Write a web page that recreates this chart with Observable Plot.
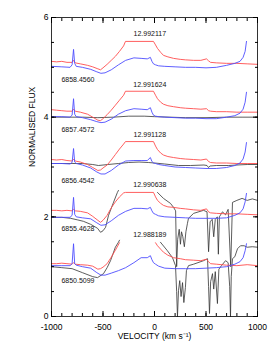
<!DOCTYPE html>
<html><head><meta charset="utf-8">
<script src="https://cdn.jsdelivr.net/npm/d3@7"></script>
<script src="https://cdn.jsdelivr.net/npm/@observablehq/plot@0.6"></script>
<style>body{margin:0;background:#fff}</style>
</head><body><div id="chart"></div>
<script>
// Velocity grids (km/s)
const redV = [-1000,-950,-900,-850,-800,-786,-770,-720,-650,-600,-550,-524,-500,-460,-420,-380,-340,-300,-282,-10,10,29,60,87,130,185,250,300,380,450,505,525,544,600,700,800,900,1000];
const blueV = [-1000,-900,-820,-800,-786,-775,-760,-700,-620,-560,-520,-480,-420,-350,-280,-200,-130,-70,-40,-25,-10,10,40,100,200,300,400,500,600,700,780,830,860,880,893];

// Red profiles (offset spectra, as plotted)
const red1 = [5.12,5.11,5.12,5.10,5.10,5.14,5.09,5.07,5.04,5.01,4.97,4.95,4.99,5.06,5.14,5.22,5.32,5.43,5.52,5.52,5.45,5.38,5.30,5.24,5.21,5.18,5.16,5.15,5.14,5.14,5.17,5.13,5.10,5.09,5.08,5.08,5.07,5.06];
const red2 = [4.15,4.14,4.13,4.12,4.12,4.16,4.12,4.10,4.06,4.00,3.94,3.93,3.97,4.05,4.14,4.24,4.34,4.44,4.52,4.52,4.44,4.37,4.30,4.26,4.23,4.21,4.19,4.18,4.17,4.16,4.17,4.13,4.12,4.11,4.11,4.10,4.10,4.10];
const red3 = [3.15,3.14,3.15,3.13,3.12,3.16,3.12,3.10,3.05,2.99,2.93,2.94,2.98,3.04,3.14,3.25,3.36,3.46,3.51,3.51,3.42,3.35,3.28,3.24,3.21,3.19,3.17,3.16,3.15,3.14,3.16,3.11,3.09,3.08,3.08,3.07,3.07,3.07];
const red4 = [2.13,2.13,2.12,2.13,2.12,2.15,2.12,2.11,2.08,2.01,1.93,1.89,1.93,2.03,2.18,2.30,2.40,2.48,2.49,2.49,2.40,2.33,2.27,2.23,2.20,2.19,2.17,2.16,2.14,2.13,2.16,2.10,2.08,2.07,2.06,2.06,2.05,2.04];
const red5 = [1.06,1.06,1.07,1.06,1.05,1.08,1.05,1.04,1.03,1.01,0.95,0.96,0.99,1.06,1.19,1.33,1.48,NaN,NaN,NaN,1.48,1.42,1.35,1.29,1.23,1.18,1.16,1.14,1.13,1.12,1.15,1.10,1.06,1.05,1.03,1.02,1.04,1.02];

// Blue profiles
const blue1 = [5.02,5.01,5.00,5.05,5.36,5.08,5.02,5.00,4.96,4.91,4.88,4.89,4.95,5.05,5.14,5.19,5.18,5.17,5.20,5.12,5.07,5.05,5.03,5.02,5.01,5.00,5.00,4.99,5.00,5.04,5.08,5.12,5.20,5.32,5.52];
const blue2 = [4.01,4.01,4.00,4.04,4.37,4.06,4.01,3.99,3.95,3.91,3.89,3.90,3.96,4.06,4.13,4.17,4.16,4.15,4.19,4.10,4.04,4.02,4.01,4.00,3.99,3.98,3.98,3.97,3.97,4.00,4.03,4.08,4.16,4.30,4.50];
const blue3 = [3.07,3.07,3.06,3.09,3.37,3.10,3.07,3.04,2.98,2.90,2.86,2.86,2.93,3.04,3.12,3.13,3.13,3.13,3.19,3.11,3.08,3.07,3.05,3.03,3.00,2.99,2.98,2.97,2.97,2.99,3.03,3.08,3.16,3.30,3.49];
const blue4 = [1.99,1.99,1.99,2.03,2.39,2.05,2.00,1.98,1.96,1.88,1.83,1.84,1.92,2.03,2.11,2.17,2.17,2.16,2.19,2.12,2.07,2.05,2.02,2.00,1.99,1.98,1.97,1.97,1.97,1.98,2.03,2.08,2.16,2.30,2.47];
const blue5 = [1.02,1.02,1.02,1.06,1.46,1.06,1.03,1.00,0.97,0.88,0.83,0.83,0.87,0.92,0.98,1.08,1.18,1.18,1.22,1.14,1.08,1.05,1.01,0.97,0.96,0.96,0.96,0.97,0.98,1.00,1.05,1.10,1.18,1.32,1.46];

// Black profiles
const black2V = [-1000,-700,-550,-400,-250,-100,0,150,300,500,700,850,1000];
const black2 = [4.00,4.00,3.99,4.00,4.02,4.02,4.01,4.00,3.99,3.99,4.00,4.00,4.00];
const black3V = [-1000,-800,-700,-600,-544,-450,-350,-252,-150,-60,0,100,233,350,480,510,524,540,600,720,800,900,1000];
const black3 = [3.07,3.07,3.07,3.05,3.03,3.05,3.07,3.09,3.10,3.09,3.08,3.06,3.03,3.03,3.04,3.03,2.99,3.02,3.03,3.03,3.04,3.05,3.05];
const black4V = [-1000,-900,-815,-750,-690,-620,-553,-524,-500,-475,-446,-400,-360,-350,-100,29,87,155,185,205,215,225,240,252,262,275,290,305,320,330,380,476,510,525,540,560,575,590,610,620,630,660,690,715,740,757,800,850,900,950,1000];
const black4 = [1.99,1.99,1.97,1.94,1.91,1.85,1.77,1.69,1.72,1.79,2.03,2.28,2.49,2.53,NaN,2.49,2.37,2.27,2.19,2.12,1.00,1.55,1.75,1.45,1.70,1.60,1.40,1.70,1.87,1.97,2.07,2.13,2.10,1.30,1.90,1.95,1.60,1.95,2.00,1.25,2.00,2.10,2.04,2.15,1.00,2.29,2.33,2.37,2.33,2.36,2.33];
const black5V = [-1000,-900,-800,-700,-600,-553,-495,-460,-427,-380,-350,-340,-100,58,125,175,204,215,223,233,245,258,272,285,300,310,330,380,476,515,525,534,545,563,575,590,611,625,650,690,715,730,738,745,757,780,806,835,870,900,950,1000];
const black5 = [1.00,0.98,0.96,0.88,0.80,0.78,0.86,0.98,1.12,1.39,1.49,1.53,NaN,1.49,1.32,1.18,1.02,0.50,0.00,0.52,0.72,0.40,0.68,0.28,0.58,0.92,1.02,1.05,1.12,1.16,0.60,0.06,0.70,0.86,0.55,0.90,0.26,0.95,1.02,1.12,1.08,0.60,0.00,0.80,1.16,1.20,1.36,1.42,1.42,1.39,1.40,1.39];

// Annotations
const dateLabels = ["12.992117","12.991624","12.991128","12.990638","12.988189"];
const dateV = [-45,-45,-45,-45,-45];
const dateF = [5.68,4.66,3.65,2.65,1.65];
const hjdLabels = ["6858.4560","6857.4572","6856.4542","6855.4628","6850.5099"];
const hjdV = [-743,-743,-743,-743,-743];
const hjdF = [4.76,3.75,2.73,1.77,0.72];

// Axis ticks
const xMinor = d3.range(-1000, 1001, 100);
const xMajor = [-1000,-500,0,500,1000];
const yMinor = d3.range(0, 6.01, 0.5);
const yMajor = [0,2,4,6];

const rows = (sets) => sets.flatMap(([vs, fs], i) => vs.map((v, j) => ({spec: i, v, f: fs[j]})));
const redRows = rows([red1, red2, red3, red4, red5].map(f => [redV, f]));
const blueRows = rows([blue1, blue2, blue3, blue4, blue5].map(f => [blueV, f]));
const blackRows = rows([[black2V, black2], [black3V, black3], [black4V, black4], [black5V, black5]]);
const dateRows = dateLabels.map((t, i) => ({t, v: dateV[i], f: dateF[i]}));
const hjdRows = hjdLabels.map((t, i) => ({t, v: hjdV[i], f: hjdF[i]}));

const noText = () => "";
const chart = Plot.plot({
  width: 273, height: 350,
  marginLeft: 51, marginRight: 16, marginTop: 17, marginBottom: 34,
  style: {fontFamily: "'Liberation Sans', Arial, sans-serif", fontSize: "8.5px", color: "#000", background: "#fff"},
  x: {domain: [-1000, 1000]},
  y: {domain: [0, 6]},
  marks: [
    Plot.line(blackRows, {x: "v", y: "f", z: "spec", stroke: "#333", strokeWidth: 0.8}),
    Plot.line(redRows, {x: "v", y: "f", z: "spec", stroke: "#ff4d4d", strokeWidth: 0.9}),
    Plot.line(blueRows, {x: "v", y: "f", z: "spec", stroke: "#4d4dff", strokeWidth: 0.9}),
    Plot.text(dateRows, {x: "v", y: "f", text: "t", fontSize: 7, fill: "#111"}),
    Plot.text(hjdRows, {x: "v", y: "f", text: "t", fontSize: 7, fill: "#111"}),
    Plot.frame({stroke: "#000", strokeWidth: 0.8}),
    Plot.axisX({anchor: "bottom", ticks: xMinor, tickSize: -3, tickFormat: noText, label: null}),
    Plot.axisX({anchor: "bottom", ticks: xMajor, tickSize: -5, tickPadding: 12, tickFormat: d => String(d), label: null}),
    Plot.axisX({anchor: "top", ticks: xMinor, tickSize: -3, tickFormat: noText, label: null}),
    Plot.axisX({anchor: "top", ticks: xMajor, tickSize: -5, tickFormat: noText, label: null}),
    Plot.axisY({anchor: "left", ticks: yMinor, tickSize: -3, tickFormat: noText, label: null}),
    Plot.axisY({anchor: "left", ticks: yMajor, tickSize: -5, tickPadding: 8, tickFormat: d => String(d), label: null}),
    Plot.axisY({anchor: "right", ticks: yMinor, tickSize: -3, tickFormat: noText, label: null}),
    Plot.axisY({anchor: "right", ticks: yMajor, tickSize: -5, tickFormat: noText, label: null}),
    Plot.text(["VELOCITY (km s\u207B\u00B9)"], {frameAnchor: "bottom", dy: 22, fontSize: 8.5}),
    Plot.text(["NORMALISED FLUX"], {frameAnchor: "left", dx: -19, rotate: -90, fontSize: 8.5})
  ]
});
document.getElementById("chart").appendChild(chart);
</script>
</body></html>
